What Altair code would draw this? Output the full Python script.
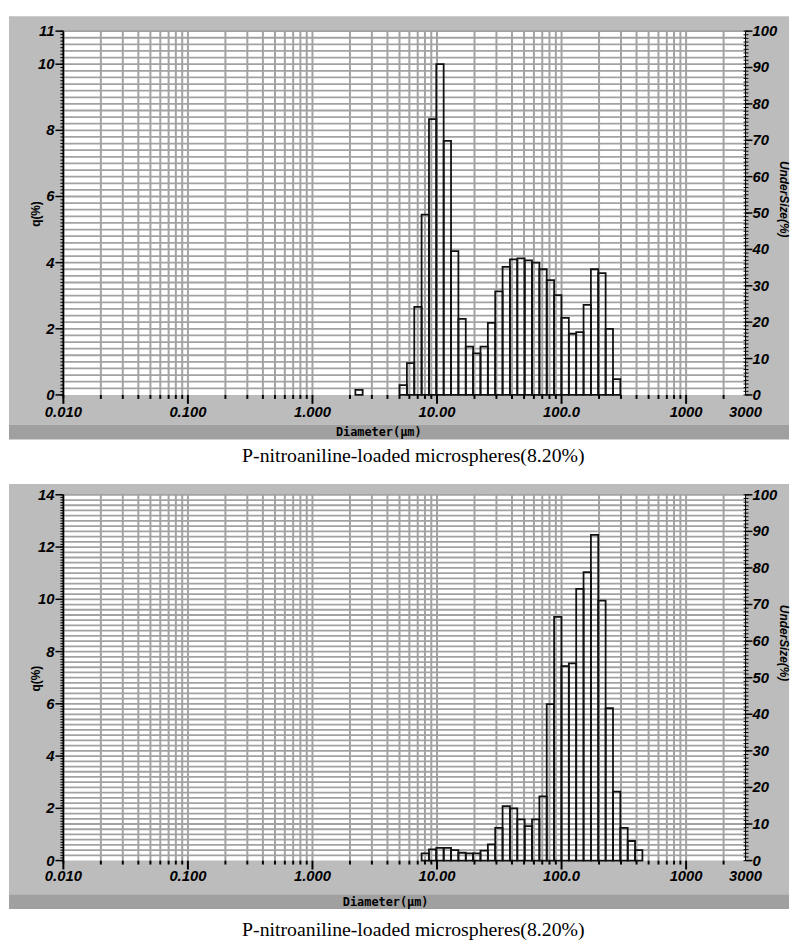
import altair as alt
import pandas as pd

# ---------------- data ----------------
# bin edges (µm), log-spaced bins of the particle-size analyser
EDGES = [2.21, 2.53, 2.90, 3.32, 3.81, 4.36, 5.00, 5.73, 6.57, 7.52, 8.62, 9.87,
         11.31, 12.96, 14.85, 17.02, 19.50, 22.34, 25.60, 29.34, 33.61, 38.51,
         44.13, 50.56, 57.93, 66.38, 76.03, 87.13, 99.82, 114.4, 131.1, 150.2,
         172.1, 197.1, 225.9, 258.8, 296.5, 339.7, 389.2, 446.0]

# q(%) per bin, top panel
TOP_Q = [0.15, 0, 0, 0, 0, 0,
         0.30, 0.96, 2.66, 5.45, 8.34, 10.0, 7.68, 4.35, 2.30, 1.46,
         1.26, 1.46, 2.18, 3.13, 3.87, 4.10, 4.13, 4.07, 4.00, 3.80,
         3.47, 3.02, 2.33, 1.85, 1.90, 2.72, 3.80, 3.68, 2.00, 0.48,
         0, 0, 0]

# q(%) per bin, bottom panel
BOTTOM_Q = [0, 0, 0, 0, 0, 0, 0, 0, 0,
            0.28, 0.43, 0.49, 0.49, 0.40, 0.30, 0.28, 0.28, 0.38, 0.62,
            1.25, 2.08, 2.00, 1.58, 1.32, 1.58, 2.46, 5.99, 9.33, 7.44,
            7.55, 10.40, 11.04, 12.47, 9.95, 5.83, 2.64, 1.25, 0.75, 0.40]

X_LABEL_VALUES = [0.01, 0.1, 1, 10, 100, 1000, 3000]
X_LABELS = ["0.010", "0.100", "1.000", "10.00", "100.0", "1000", "3000"]
TOP_Y_LABELS = [0, 2, 4, 6, 8, 10, 11]
BOTTOM_Y_LABELS = [0, 2, 4, 6, 8, 10, 12, 14]
RIGHT_LABELS = [0, 10, 20, 30, 40, 50, 60, 70, 80, 90, 100]
CAPTION = "P-nitroaniline-loaded microspheres(8.20%)"
X_TITLE = "Diameter(\u03bcm)"
LEFT_TITLE = "q(%)"
RIGHT_TITLE = "UnderSize(%)"

# ---------------- styling ----------------
W = 690
GRAY = "#bcbcbc"
BAND = "#a0a0a0"
GRID = "#a2a2a2"
TICK_FONT = "Liberation Sans"

DECADES = [0.01, 0.1, 1, 10, 100, 1000]
MINOR_X = [m * d for d in DECADES for m in range(2, 10) if m * d < 3000]
GRID_X = sorted(DECADES + MINOR_X)


def panel(q, ymax, H, ylabels, gray_top, band_top, band_bot, xlab_y,
          xtitle_x, ltitle_y, rtitle_y, cap_y):
    xs = alt.Scale(type="log", domain=[0.01, 3000], nice=False)
    ys = alt.Scale(domain=[0, ymax], nice=False, zero=False)
    rs = alt.Scale(domain=[0, 100], nice=False, zero=False)
    one = pd.DataFrame({"a": [0]})

    bg = alt.Chart(one).mark_rect(color=GRAY).encode(
        x=alt.value(-55), x2=alt.value(734), y=alt.value(gray_top), y2=alt.value(band_top))
    band = alt.Chart(one).mark_rect(color=BAND).encode(
        x=alt.value(-55), x2=alt.value(734), y=alt.value(band_top), y2=alt.value(band_bot))
    plotbg = alt.Chart(one).mark_rect(color="white").encode(
        x=alt.value(0), x2=alt.value(W), y=alt.value(0), y2=alt.value(H))

    vgrid = alt.Chart(pd.DataFrame({"d": GRID_X})).mark_rule(color=GRID, strokeWidth=2).encode(
        x=alt.X("d:Q", scale=xs, axis=None), y=alt.value(0), y2=alt.value(H))
    gy = [round(i * 0.2, 1) for i in range(1, int(round(ymax / 0.2)) + 1)]
    hgrid = alt.Chart(pd.DataFrame({"v": gy})).mark_rule(color=GRID, strokeWidth=1.8).encode(
        y=alt.Y("v:Q", scale=ys, axis=None), x=alt.value(0), x2=alt.value(W))

    rows = [{"lo": EDGES[i], "hi": EDGES[i + 1], "q": v, "base": 0}
            for i, v in enumerate(q) if v > 0]
    bars = alt.Chart(pd.DataFrame(rows)).mark_rect(
        fill="white", fillOpacity=0, stroke="#111111", strokeWidth=1.8).encode(
        x=alt.X("lo:Q", scale=xs, axis=None), x2="hi:Q",
        y=alt.Y("q:Q", scale=ys, axis=None), y2="base:Q")

    xminor = alt.Chart(pd.DataFrame({"d": MINOR_X})).mark_rule(color="black", strokeWidth=2).encode(
        x=alt.X("d:Q", scale=xs, axis=None), y=alt.value(H), y2=alt.value(H + 4))
    xmajor = alt.Chart(pd.DataFrame({"d": DECADES})).mark_rule(color="black", strokeWidth=2).encode(
        x=alt.X("d:Q", scale=xs, axis=None), y=alt.value(H), y2=alt.value(H + 9))
    xlabels = alt.Chart(pd.DataFrame({"d": X_LABEL_VALUES, "t": X_LABELS})).mark_text(
        font=TICK_FONT, fontSize=15, fontStyle="italic", fontWeight="bold",
        baseline="middle", align="center", color="black").encode(
        x=alt.X("d:Q", scale=xs, axis=None), y=alt.value(xlab_y), text="t:N")

    laxis = alt.Chart(one).mark_rule(color="black", strokeWidth=1.8).encode(
        x=alt.value(0), y=alt.value(0), y2=alt.value(H + 3))
    lminor_v = [round(i * 0.1, 1) for i in range(0, int(round(ymax / 0.1)) + 1)]
    lminor = alt.Chart(pd.DataFrame({"v": lminor_v})).mark_rule(color="black", strokeWidth=1).encode(
        y=alt.Y("v:Q", scale=ys, axis=None), x=alt.value(-3), x2=alt.value(0))
    lmajor = alt.Chart(pd.DataFrame({"v": ylabels})).mark_rule(color="black", strokeWidth=1.5).encode(
        y=alt.Y("v:Q", scale=ys, axis=None), x=alt.value(-8), x2=alt.value(0))
    llabels = alt.Chart(pd.DataFrame({"v": ylabels})).mark_text(
        font=TICK_FONT, fontSize=15, fontStyle="italic", fontWeight="bold",
        baseline="middle", align="right", color="black").encode(
        y=alt.Y("v:Q", scale=ys, axis=None), x=alt.value(-9), text="v:Q")

    raxis = alt.Chart(one).mark_rule(color="black", strokeWidth=1).encode(
        x=alt.value(W), y=alt.value(0), y2=alt.value(H))
    rminor = alt.Chart(pd.DataFrame({"r": list(range(0, 101))})).mark_rule(
        color="black", strokeWidth=1).encode(
        y=alt.Y("r:Q", scale=rs, axis=None), x=alt.value(W - 2), x2=alt.value(W + 3))
    rmajor = alt.Chart(pd.DataFrame({"r": RIGHT_LABELS})).mark_rule(
        color="black", strokeWidth=1.5).encode(
        y=alt.Y("r:Q", scale=rs, axis=None), x=alt.value(W), x2=alt.value(W + 7))
    rlabels = alt.Chart(pd.DataFrame({"r": RIGHT_LABELS})).mark_text(
        font=TICK_FONT, fontSize=15, fontStyle="italic", fontWeight="bold",
        baseline="middle", align="left", color="black").encode(
        y=alt.Y("r:Q", scale=rs, axis=None), x=alt.value(W + 7), text="r:Q")

    xtitle = alt.Chart(one).mark_text(
        text=X_TITLE, font="DejaVu Sans Mono", fontSize=12, fontWeight="bold",
        baseline="middle", align="center", color="black").encode(
        x=alt.value(xtitle_x), y=alt.value((band_top + band_bot) / 2))
    ltitle = alt.Chart(one).mark_text(
        text=LEFT_TITLE, font=TICK_FONT, fontSize=12, fontWeight="bold", angle=270,
        baseline="middle", align="center", color="black").encode(
        x=alt.value(-28), y=alt.value(ltitle_y))
    rtitle = alt.Chart(one).mark_text(
        text=RIGHT_TITLE, font=TICK_FONT, fontSize=12, fontWeight="bold", angle=90,
        fontStyle="italic", baseline="middle", align="center", color="black").encode(
        x=alt.value(729), y=alt.value(rtitle_y))
    caption = alt.Chart(one).mark_text(
        text=CAPTION, font="Liberation Serif", fontSize=20,
        baseline="middle", align="center", color="black").encode(
        x=alt.value(354), y=alt.value(cap_y))

    return alt.layer(
        bg, band, plotbg, vgrid, hgrid, bars, xminor, xmajor, xlabels,
        laxis, lminor, lmajor, llabels, raxis, rminor, rmajor, rlabels,
        xtitle, ltitle, rtitle, caption
    ).resolve_scale(y="independent").properties(width=W, height=H)


top = panel(TOP_Q, 11, 368, TOP_Y_LABELS, gray_top=-15, band_top=398, band_bot=413,
            xlab_y=385, xtitle_x=319, ltitle_y=185, rtitle_y=170, cap_y=430)
bottom = panel(BOTTOM_Q, 14, 370, BOTTOM_Y_LABELS, gray_top=-11, band_top=404, band_bot=419,
               xlab_y=386, xtitle_x=326, ltitle_y=186, rtitle_y=150, cap_y=440)

chart = alt.vconcat(top, bottom, spacing=16).properties(
    padding={"left": 0, "top": 2, "right": 0, "bottom": 0}
).configure_view(stroke=None).configure(background="white")

chart.save("out.html", embed_options={"renderer": "svg", "actions": False})
